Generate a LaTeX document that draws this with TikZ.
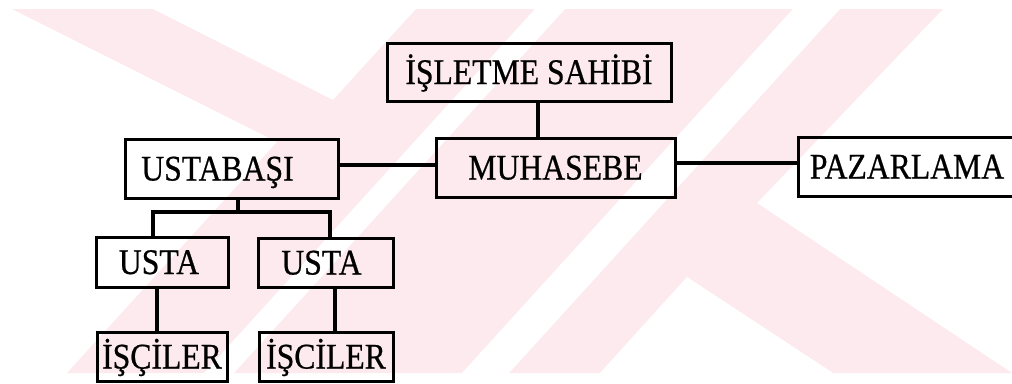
\documentclass[tikz,border=0pt]{standalone}
\usepackage{fontspec}
\setmainfont{Liberation Serif}[FakeStretch=0.88,FakeBold=0.6]
\definecolor{wmpink}{RGB}{252,234,238}
\begin{document}
\begin{tikzpicture}[x=1pt,y=-1pt,
  box/.style={draw=black, line width=3pt, inner sep=0pt, fill=none,
    text height=24pt, text depth=0pt, font=\fontsize{36}{42}\selectfont},
  link/.style={draw=black, line width=3.2pt},
  wm/.style={fill=wmpink},
  wmgap/.style={fill=white}]
\useasboundingbox (0,0) rectangle (1012,383);
% watermark
\fill[wm] (12,9) -- (153,9) -- (333,100) -- (416,9) -- (943,9) -- (757,203)
  -- (1012,373) -- (67,373) -- (277,142) -- cycle;
\fill[wmgap] (535,9) -- (565,9) -- (234,373) -- (204,373) -- cycle;
\fill[wmgap] (793,9) -- (840,9) -- (509,373) -- (462,373) -- cycle;
\fill[wmgap] (687,277) -- (833,373) -- (600,373) -- cycle;
% boxes
\node[box, minimum width=284pt, minimum height=58pt] (isl) at (529,72) {İŞLETME SAHİBİ};
\node[box, minimum width=239pt, minimum height=59pt] (muh) at (555.5,167.5) {MUHASEBE};
\node[box, minimum width=213pt, minimum height=59pt] (ust) at (231.5,168.5) {USTABAŞI\kern28pt};
\node[box, minimum width=232pt, minimum height=59pt] (paz) at (914,166.5) {PAZARLAMA\kern14pt};
\node[box, minimum width=132pt, minimum height=50pt] (usta1) at (162,262) {USTA\kern6pt};
\node[box, minimum width=135pt, minimum height=49pt] (usta2) at (325.5,262.5) {USTA\kern8pt};
\node[box, minimum width=130pt, minimum height=49pt] (isc1) at (162,356.5) {İŞÇİLER};
\node[box, minimum width=134pt, minimum height=49pt] (isc2) at (326,356.5) {İŞCİLER};
% connectors
\coordinate (xa) at (538,0);
\coordinate (ya) at (0,165);
\coordinate (yb) at (0,163);
\coordinate (j) at (238,212);
\coordinate (l1) at (153,212);
\coordinate (l2) at (330,212);
\coordinate (xc) at (157,0);
\coordinate (xd) at (335,0);
\draw[link] (isl.south -| xa) -- (muh.north -| xa);
\draw[link] (ust.east |- ya) -- (muh.west |- ya);
\draw[link] (muh.east |- yb) -- (paz.west |- yb);
\draw[link] (ust.south -| j) -- (j);
\draw[link] (usta1.north -| l1) -- (l1) -- (l2) -- (usta2.north -| l2);
\draw[link] (usta1.south -| xc) -- (isc1.north -| xc);
\draw[link] (usta2.south -| xd) -- (isc2.north -| xd);
\end{tikzpicture}
\end{document}
